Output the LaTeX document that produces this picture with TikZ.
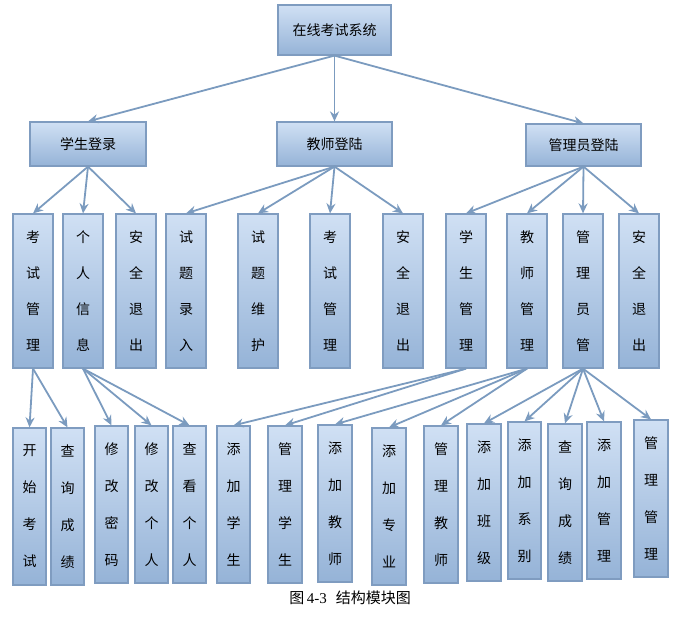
\documentclass[tikz,border=0pt]{standalone}
\usepackage{fontspec}
\setmainfont{Liberation Serif}
\newfontfamily\cjk{Noto Sans CJK SC}
\usetikzlibrary{arrows.meta}
\definecolor{bord}{HTML}{7F9CC0}
\definecolor{arr}{HTML}{7B9BBF}
\definecolor{ftop}{HTML}{D0E0F4}
\definecolor{fbot}{HTML}{95B3D7}
\tikzset{
  bx/.style={draw=bord,line width=1.2pt,top color=ftop,bottom color=fbot,inner sep=0pt,font=\cjk\fontsize{14}{14}\selectfont,align=center},
  con/.style={draw=arr,line width=1.8pt,-{Stealth[length=10pt,width=9pt]}}
}
\newcommand\bx[6]{\node[bx,minimum width={(#3-#1)*1pt},minimum height={(#4-#2)*1pt}] (#5) at ({(#1+#3)/2},{-(#2+#4)/2}) {#6};}
\begin{document}
\begin{tikzpicture}[x=1pt,y=1pt]
\useasboundingbox (0,0) rectangle (677,-617);
\bx{278}{5}{391}{55}{root}{在线考试系统}
\bx{30}{122}{146}{166}{stu}{学生登录}
\bx{277}{122}{392}{166}{tea}{教师登陆}
\bx{526}{124}{641}{166}{adm}{管理员登陆}
\def\vs{\\[22pt]}
\bx{13}{214}{53}{368}{a1}{考\vs 试\vs 管\vs 理}
\bx{63}{214}{103}{368}{a2}{个\vs 人\vs 信\vs 息}
\bx{116}{214}{156}{368}{a3}{安\vs 全\vs 退\vs 出}
\bx{166}{214}{206}{368}{b1}{试\vs 题\vs 录\vs 入}
\bx{238}{214}{278}{368}{b2}{试\vs 题\vs 维\vs 护}
\bx{310}{214}{350}{368}{b3}{考\vs 试\vs 管\vs 理}
\bx{383}{214}{423}{368}{b4}{安\vs 全\vs 退\vs 出}
\bx{446}{214}{486}{368}{c1}{学\vs 生\vs 管\vs 理}
\bx{507}{214}{547}{368}{c2}{教\vs 师\vs 管\vs 理}
\bx{563}{214}{603}{368}{c3}{管\vs 理\vs 员\vs 管}
\bx{619}{214}{659}{368}{c4}{安\vs 全\vs 退\vs 出}
\def\ws{\\[23pt]}
\bx{13}{428}{46}{585}{d1}{开\ws 始\ws 考\ws 试}
\bx{51}{428}{84}{585}{d2}{查\ws 询\ws 成\ws 绩}
\bx{95}{426}{128}{583}{d3}{修\ws 改\ws 密\ws 码}
\bx{135}{426}{168}{583}{d4}{修\ws 改\ws 个\ws 人}
\bx{173}{426}{206}{583}{d5}{查\ws 看\ws 个\ws 人}
\bx{217}{426}{250}{583}{d6}{添\ws 加\ws 学\ws 生}
\bx{268}{426}{302}{583}{d7}{管\ws 理\ws 学\ws 生}
\bx{318}{425}{352}{582}{d8}{添\ws 加\ws 教\ws 师}
\bx{372}{428}{406}{585}{d9}{添\ws 加\ws 专\ws 业}
\bx{424}{426}{458}{583}{d10}{管\ws 理\ws 教\ws 师}
\bx{467}{424}{501}{581}{d11}{添\ws 加\ws 班\ws 级}
\bx{508}{422}{541}{579}{d12}{添\ws 加\ws 系\ws 别}
\bx{548}{424}{582}{581}{d13}{查\ws 询\ws 成\ws 绩}
\bx{587}{422}{621}{579}{d14}{添\ws 加\ws 管\ws 理}
\bx{634}{420}{668}{577}{d15}{管\ws 理\ws 管\ws 理}
\foreach \t in {stu,tea,adm} \draw[con] (root.south) -- (\t.north);
\foreach \t in {a1,a2,a3} \draw[con] (stu.south) -- (\t.north);
\foreach \t in {b1,b2,b3,b4} \draw[con] (tea.south) -- (\t.north);
\foreach \t in {c1,c2,c3,c4} \draw[con] (adm.south) -- (\t.north);
\foreach \t in {d1,d2} \draw[con] (a1.south) -- (\t.north);
\foreach \t in {d3,d4,d5} \draw[con] (a2.south) -- (\t.north);
\foreach \t in {d6,d7} \draw[con] (c1.south) -- (\t.north);
\foreach \t in {d8,d9,d10} \draw[con] (c2.south) -- (\t.north);
\foreach \t in {d11,d12,d13,d14,d15} \draw[con] (c3.south) -- (\t.north);
\node[font=\fontsize{15}{15}\selectfont] (cap) at (350,-598) {{\cjk 图}\,4-3\hspace{0.6em}{\cjk 结构模块图}};
\end{tikzpicture}
\end{document}
